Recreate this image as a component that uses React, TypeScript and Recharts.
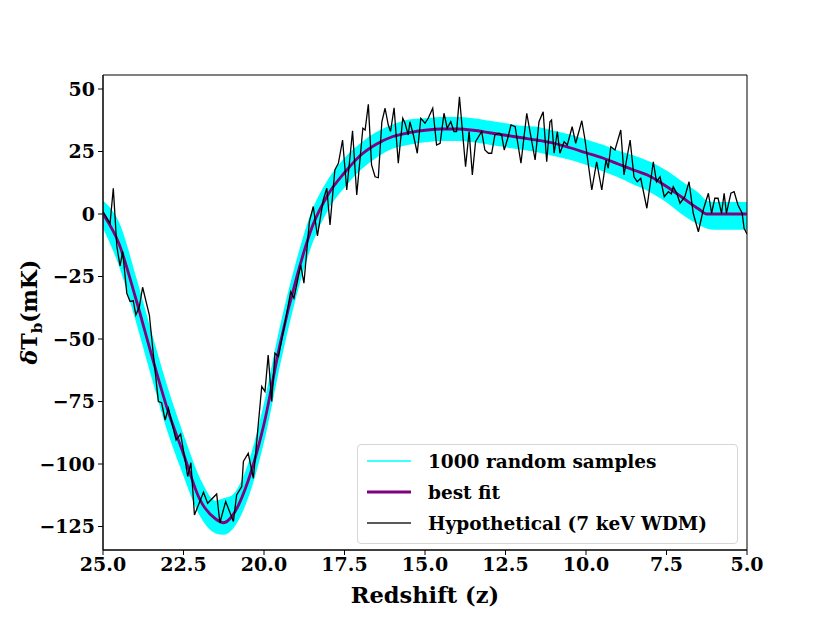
import { Area, ComposedChart, Line, ReferenceArea, XAxis, YAxis } from 'recharts';

const font = 'DejaVu Serif, serif';

// grid for best fit and the sample band (redshift, high to low)
const zGrid = [
  25, 24.5, 24, 23.5, 23, 22.5, 22, 21.5, 21.25, 21, 20.5, 20, 19.5, 19, 18.5, 18, 17.5, 17, 16.5, 16, 15.5,
  15, 14.5, 14, 13.5, 13, 12.5, 12, 11.5, 11, 10.5, 10, 9.5, 9, 8.5, 8, 7.5, 7, 6.5, 6.25, 6, 5.5, 5,
];
const fitT = [
  0, -12, -33, -56, -78, -96, -114, -122, -123.5, -121, -107, -84, -52, -26, -5, 8, 16.5, 23.5, 28, 31, 32.5,
  33.5, 34, 34, 33.5, 32.5, 31.5, 30.5, 29.5, 28.3, 26.5, 24.5, 22.5, 20, 17.5, 15, 11, 6.5, 2, 0, 0, 0, 0,
];
const bandLo = [
  -5, -20, -41, -64, -86, -104, -120, -127.5, -128, -126, -113, -90, -59, -32, -11, 2.5, 11, 18, 23, 26.5, 28,
  29, 29.5, 29.5, 29, 28, 27, 26, 25, 23.5, 22, 20, 17.5, 15, 12, 9, 5, 0, -4, -5.5, -6, -6, -6,
];
const bandHi = [
  5, -4, -25, -48, -70, -89, -106, -115, -114, -113, -101, -77, -46, -20, 1, 13.5, 22, 28, 32.5, 35.5, 37.5,
  38, 38.5, 38.5, 38, 37, 36, 35, 34.5, 33, 31.5, 29.5, 27.5, 25, 23, 20.5, 17, 12.5, 8, 5, 4.5, 4.5, 4.5,
];

// hypothetical 7 keV WDM signal (noisy)
const hypoZ = [
  25.0, 24.78, 24.68, 24.57, 24.47, 24.39, 24.26, 24.16, 24.06, 23.98, 23.87, 23.77, 23.56, 23.44, 23.28,
  23.18, 23.07, 22.97, 22.73, 22.59, 22.45, 22.37, 22.27, 22.16, 21.88, 21.75, 21.47, 21.37, 21.19, 20.95,
  20.85, 20.69, 20.64, 20.49, 20.33, 20.07, 19.97, 19.87, 19.76, 19.66, 19.55, 19.35, 19.17, 19.07, 18.86,
  18.76, 18.59, 18.47, 18.34, 18.16, 18.05, 17.95, 17.8, 17.69, 17.56, 17.43, 17.25, 17.12, 16.93, 16.86,
  16.76, 16.66, 16.55, 16.45, 16.34, 16.24, 16.14, 16.07, 15.96, 15.83, 15.69, 15.62, 15.52, 15.47, 15.36,
  15.24, 15.13, 15.0, 14.9, 14.76, 14.64, 14.53, 14.41, 14.31, 14.2, 14.1, 14.02, 13.93, 13.74, 13.63,
  13.53, 13.43, 13.24, 13.14, 13.03, 12.93, 12.83, 12.7, 12.62, 12.54, 12.43, 12.33, 12.2, 12.02, 11.84,
  11.74, 11.58, 11.46, 11.33, 11.22, 11.12, 11.07, 10.99, 10.89, 10.81, 10.68, 10.58, 10.43, 10.32, 10.13,
  10.03, 9.82, 9.67, 9.51, 9.38, 9.31, 9.23, 9.1, 8.92, 8.82, 8.74, 8.63, 8.51, 8.41, 8.3, 8.11, 7.91,
  7.81, 7.7, 7.57, 7.44, 7.35, 7.29, 7.18, 7.08, 6.93, 6.8, 6.67, 6.51, 6.36, 6.2, 6.1, 6.0, 5.9, 5.79,
  5.71, 5.64, 5.5, 5.4, 5.28, 5.15, 5.09, 5.0,
];
const hypoT = [
  1, -3.7, 10.3, -13, -20.8, -15, -31.7, -35, -34.7, -40.4, -37, -29.3, -40.4, -55.7, -75,
  -75.5, -82.4, -77.7, -90.4, -88, -98.4, -105, -99.5, -120.4, -111.3, -115.7, -112, -123.5, -115, -123,
  -112.4, -109, -99, -95.7, -105.7, -69, -71, -56.4, -75, -55.7, -57, -43.7, -31, -33.7, -20.4,
  -27.7, -3, 3, -8.8, 5.6, 10.3, -4.4, 17.6, 20.3, 29.6, 9.6, 33.3, 7.6, 34.3, 33.6,
  43.9, 19.6, 14.9, 14.5, 36.9, 42.3, 35.6, 33, 42.5, 20.3, 38.3, 36.3, 31.6, 36.9, 31.6,
  24.3, 38.3, 36.3, 38.3, 42.3, 27.6, 28.3, 40.3, 34.3, 36.9, 33, 33, 46.9, 18.9, 33,
  15.6, 28.9, 33, 25.6, 24.3, 24.3, 31.6, 32.3, 31.6, 25.6, 30.3, 35.6, 34.9, 20.3, 40.3,
  33, 21.6, 36.9, 40.9, 20.9, 36.9, 37.6, 24.3, 33, 24.3, 28.9, 27.6, 34.9, 28.3, 37.3,
  29.6, 9.6, 20.9, 9.6, 21.6, 18.3, 26.9, 25.6, 33.6, 15.6, 21.6, 29.6, 14.9, 12.9, 14.3, 2.3, 20.9,
  12.9, 14.9, 6.9, 8.9, 8, 10.9, 8.3, 4.3, 6.9, 12.9, 0.3, -7.1, 1.6, 8.3, 0.3, 6.3, 6.3, 0.3,
  8.3, 0.3, 8.3, 8.9, 3.6, 0.3, -5.7, -8,
];

const xTicks = [25, 22.5, 20, 17.5, 15, 12.5, 10, 7.5, 5];
const yTicks = [-125, -100, -75, -50, -25, 0, 25, 50];
const yDomain: [number, number] = [-134.4, 55.6];

const fitRows = zGrid.map((z, i) => ({ z, fit: fitT[i], band: [bandLo[i], bandHi[i]] }));
const hypoRows = hypoZ.map((z, i) => ({ z, t: hypoT[i] }));

const tick = { fontSize: 19, fontFamily: font, fontWeight: 'bold', fill: '#000' };

const legendItems = [
  { name: '1000 random samples', color: '#00ffff', width: 1.5 },
  { name: 'best fit', color: '#800080', width: 2.8 },
  { name: 'Hypothetical (7 keV WDM)', color: '#222', width: 1.3 },
];

export default function App() {
  return (
    <div style={{ position: 'absolute', left: 0, top: 0, width: 830, height: 623, background: '#fff' }}>
      <ComposedChart width={830} height={623} data={fitRows} margin={{ top: 75, right: 83, bottom: 13, left: 0 }}>
        <XAxis
          dataKey="z"
          type="number"
          domain={[5, 25]}
          reversed
          allowDataOverflow
          ticks={xTicks}
          tickFormatter={(v: number) => v.toFixed(1)}
          height={60}
          tick={tick}
          tickSize={5}
          tickMargin={3}
          axisLine={{ stroke: '#000' }}
          tickLine={{ stroke: '#000' }}
          label={{
            content: () => (
              <text x={425} y={603} textAnchor="middle" fontFamily={font} fontWeight="bold" fontSize={22.5}>
                Redshift (z)
              </text>
            ),
          }}
        />
        <YAxis
          type="number"
          domain={yDomain}
          allowDataOverflow
          ticks={yTicks}
          tickFormatter={(v: number) => (v < 0 ? '\u2212' + Math.abs(v) : String(v))}
          width={103}
          tick={tick}
          tickSize={5}
          tickMargin={3}
          axisLine={{ stroke: '#000' }}
          tickLine={{ stroke: '#000' }}
          label={{
            content: () => (
              <text
                x={37}
                y={312}
                transform="rotate(-90, 37, 312)"
                textAnchor="middle"
                fontFamily={font}
                fontWeight="bold"
                fontSize={22}
              >
                <tspan fontStyle="italic">δ</tspan>
                <tspan>T</tspan>
                <tspan fontSize={15} dy={5}>b</tspan>
                <tspan dy={-5}>(mK)</tspan>
              </text>
            ),
          }}
        />
        <Area
          dataKey="band"
          type="monotone"
          fill="#00ffff"
          fillOpacity={1}
          stroke="#00ffff"
          strokeWidth={1.5}
          isAnimationActive={false}
        />
        <Line dataKey="fit" type="monotone" stroke="#800080" strokeWidth={2.8} dot={false} isAnimationActive={false} />
        <Line
          data={hypoRows}
          dataKey="t"
          type="linear"
          stroke="#000"
          strokeWidth={1.3}
          dot={false}
          isAnimationActive={false}
        />
        <ReferenceArea x1={5} x2={25} y1={yDomain[0]} y2={yDomain[1]} fill="none" stroke="#000" strokeWidth={1} />
      </ComposedChart>
      <div
        style={{
          position: 'absolute',
          left: 357,
          top: 444,
          width: 379,
          height: 98,
          border: '1px solid #d6d6d6',
          borderRadius: 4,
          background: 'rgba(255,255,255,0.8)',
        }}
      >
        <svg width={379} height={98}>
          {legendItems.map((it, i) => (
            <g key={it.name}>
              <line x1={9} x2={53} y1={16 + i * 31} y2={16 + i * 31} stroke={it.color} strokeWidth={it.width} />
              <text x={70} y={23 + i * 31} fontFamily={font} fontWeight="bold" fontSize={18.5}>
                {it.name}
              </text>
            </g>
          ))}
        </svg>
      </div>
    </div>
  );
}
